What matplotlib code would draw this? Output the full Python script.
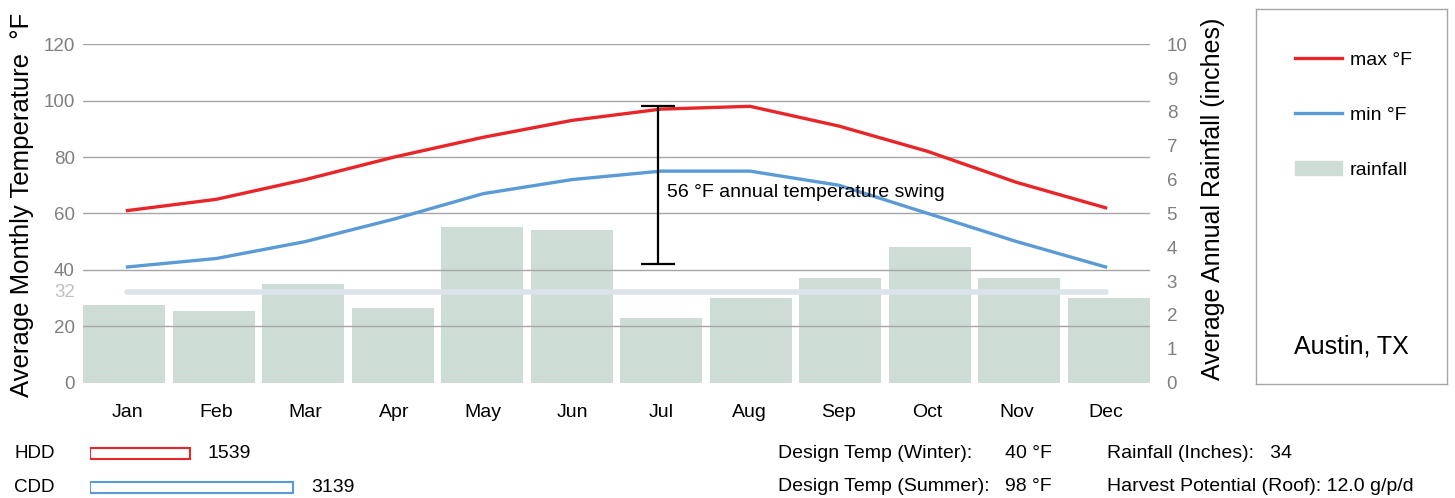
import matplotlib
matplotlib.use("Agg")
import matplotlib.pyplot as plt
from matplotlib.lines import Line2D
from matplotlib.patches import Patch

plt.rcParams['font.family'] = ['Liberation Sans', 'DejaVu Sans']

months = ['Jan', 'Feb', 'Mar', 'Apr', 'May', 'Jun', 'Jul', 'Aug', 'Sep', 'Oct', 'Nov', 'Dec']
max_f = [61, 65, 72, 80, 87, 93, 97, 98, 91, 82, 71, 62]
min_f = [41, 44, 50, 58, 67, 72, 75, 75, 70, 60, 50, 41]
rain_in = [2.3, 2.1, 2.9, 2.2, 4.6, 4.5, 1.9, 2.5, 3.1, 4.0, 3.1, 2.5]
freeze_f = 32
swing_low, swing_high = 42, 98
degree_days = [('HDD', 1539, '#e8262a'), ('CDD', 3139, '#5b9bd5')]
design_info = [('Design Temp (Winter):', '40 °F', 'Rainfall (Inches):   34'),
               ('Design Temp (Summer):', '98 °F', 'Harvest Potential (Roof): 12.0 g/p/d')]

red = '#e8262a'
blue = '#5b9bd5'
bar_col = '#cddcd5'
W, H = 1455, 498

fig = plt.figure(figsize=(W / 100, H / 100), dpi=100)

def fbox(x0, y0, x1, y1):
    # pixel box (top-left origin) -> figure fraction
    return [x0 / W, 1 - y1 / H, (x1 - x0) / W, (y1 - y0) / H]

plot_box = fbox(83, 44.3, 1150, 382.5)
x = list(range(len(months)))

# rainfall bars on their own axes (right-hand scale), filling the plot width
axr = fig.add_axes(plot_box)
bw = 0.916
axr.bar(x, rain_in, width=bw, color=bar_col, zorder=1)
axr.set_xlim(-bw / 2, 11 + bw / 2)
axr.set_ylim(0, 10)
axr.set_xticks([])
axr.yaxis.tick_right()
axr.set_yticks(range(0, 11))
axr.tick_params(axis='y', length=0, pad=12, labelsize=13.5, labelcolor='#7f7f7f')
for s in axr.spines.values():
    s.set_visible(False)

# temperature axes on top
ax = fig.add_axes(plot_box)
ax.patch.set_visible(False)
ax.set_ylim(0, 120)
ax.set_xlim(-0.5, 11.5)
ax.set_yticks(range(0, 121, 20))
for v in range(20, 121, 20):
    ax.axhline(v, color='#a6a6a6', lw=1, zorder=1)

ax.plot([0, 11], [freeze_f, freeze_f], color='#dde3ea', lw=4, solid_capstyle='round', zorder=2)
ax.plot(x, max_f, color=red, lw=2.4, zorder=3)
ax.plot(x, min_f, color=blue, lw=2.4, zorder=3)

mid = (swing_low + swing_high) / 2
ax.errorbar(6 - 0.03, mid, yerr=(swing_high - swing_low) / 2, color='black', lw=1.6,
            capsize=12.5, capthick=1.6, zorder=4)
ax.text(6.07, 67.5, '%d °F annual temperature swing' % (swing_high - swing_low),
        fontsize=14, va='center', ha='left', zorder=5)

ax.set_xticks(x)
ax.set_xticklabels(months, fontsize=14)
ax.tick_params(axis='x', length=0, pad=15.5)
ax.tick_params(axis='y', length=0, pad=6, labelsize=13.5, labelcolor='#7f7f7f')
ax.text(-0.0075, freeze_f, str(freeze_f), transform=ax.get_yaxis_transform(), fontsize=13.5,
        color='#c0c0c0', ha='right', va='center')
for s in ax.spines.values():
    s.set_visible(False)

fig.text(22 / W, 1 - 205 / H, 'Average Monthly Temperature  °F', rotation=90,
         fontsize=18.5, ha='center', va='center')
fig.text(1213 / W, 1 - 199 / H, 'Average Annual Rainfall (inches)', rotation=90,
         fontsize=18, ha='center', va='center')

# legend panel
axl = fig.add_axes(fbox(1256, 9, 1447, 384))
axl.set_xticks([])
axl.set_yticks([])
for s in axl.spines.values():
    s.set_color('#a6a6a6')
    s.set_linewidth(1)
handles = [Line2D([], [], color=red, lw=2.4), Line2D([], [], color=blue, lw=2.4),
           Patch(color=bar_col)]
axl.legend(handles, ['max °F', 'min °F', 'rainfall'], loc='upper left',
           bbox_to_anchor=(0.165, 0.908), frameon=False, fontsize=14,
           handlelength=2.4, handletextpad=0.4, labelspacing=1.92, borderaxespad=0)
axl.text(0.2, 0.1, 'Austin, TX', transform=axl.transAxes, fontsize=18, ha='left', va='center')

# degree day bars
axd = fig.add_axes(fbox(90, 436, 90 + 203 * 1.3, 498))
names = [d[0] for d in degree_days]
vals = [d[1] for d in degree_days]
cols = [d[2] for d in degree_days]
axd.barh(range(len(vals)), vals, height=0.33, color='white', edgecolor=cols, lw=1.5)
axd.set_xlim(0, 3139 * 1.3)
axd.set_ylim(1.3, -0.5)
axd.axis('off')
for i, v in enumerate(vals):
    axd.annotate(str(v), (v, i), xytext=(13, 0), textcoords='offset points',
                 fontsize=14, va='center', ha='left')
    fig.text(14 / W, 1 - (453 + i * 34) / H, names[i], fontsize=13.5, va='center')

for i, (lab, val, extra) in enumerate(design_info):
    yy = 1 - (453 + i * 33) / H
    fig.text(778 / W, yy, lab, fontsize=14, va='center')
    fig.text(1005 / W, yy, val, fontsize=14, va='center')
    fig.text(1107 / W, yy, extra, fontsize=14, va='center')

fig.savefig('out.png', dpi=100)
